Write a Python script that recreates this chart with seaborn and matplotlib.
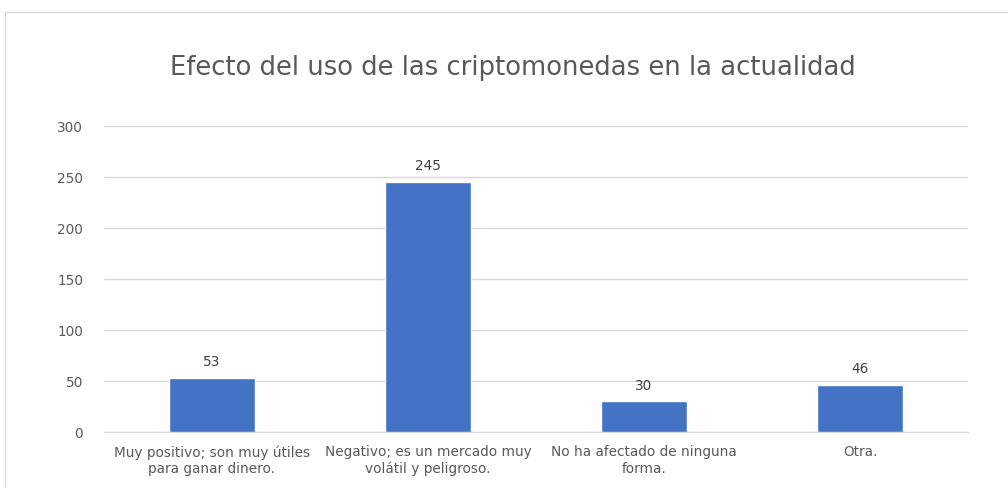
import matplotlib
matplotlib.use("Agg")
import matplotlib.pyplot as plt
import seaborn as sns
import pandas as pd
from matplotlib.patches import Rectangle

# Chart data
categories = [
    "Muy positivo; son muy útiles\npara ganar dinero.",
    "Negativo; es un mercado muy\nvolátil y peligroso.",
    "No ha afectado de ninguna\nforma.",
    "Otra.",
]
counts = [53, 245, 30, 46]
y_ticks = [0, 50, 100, 150, 200, 250, 300]

df = pd.DataFrame({"categoria": categories, "valor": counts})

sns.set_style("white")
plt.rcParams["font.family"] = ["Liberation Sans Narrow", "DejaVu Sans"]

fig = plt.figure(figsize=(10.08, 4.89), dpi=100)
ax = fig.add_axes([104 / 1008, 1 - 433 / 489, 864 / 1008, 306 / 489])

sns.barplot(data=df, x="categoria", y="valor", color="#4472C4", width=0.4,
            saturation=1, ax=ax, zorder=3)

ax.set_ylim(0, 300)
ax.set_yticks(y_ticks)
ax.set_xlim(-0.5, len(categories) - 0.5)
ax.grid(axis="y", color="#D9D9D9", linewidth=1, zorder=0)
ax.set_xlabel("")
ax.set_ylabel("")
for s in ["top", "right", "left"]:
    ax.spines[s].set_visible(False)
ax.spines["bottom"].set_color("#D9D9D9")
ax.tick_params(axis="both", length=0, colors="#595959", labelsize=9.8)
ax.tick_params(axis="y", pad=15)
ax.tick_params(axis="x", pad=9)

# value labels above bars
for p in ax.patches:
    ax.annotate(f"{int(p.get_height())}",
                (p.get_x() + p.get_width() / 2, p.get_height()),
                ha="center", va="bottom", xytext=(0, 7),
                textcoords="offset points", color="#404040", fontsize=9.8)

fig.text(513 / 1008, 1 - 68 / 489, "Efecto del uso de las criptomonedas en la actualidad",
         ha="center", va="center", fontsize=18.6, color="#595959")

# chart border (cropped on right and bottom)
fig.add_artist(Rectangle((4.5 / 1008, -0.1), 1.2, 1.1 - 12.5 / 489,
                         transform=fig.transFigure, fill=False,
                         edgecolor="#D9D9D9", linewidth=1))

fig.savefig("out.png", dpi=100)
